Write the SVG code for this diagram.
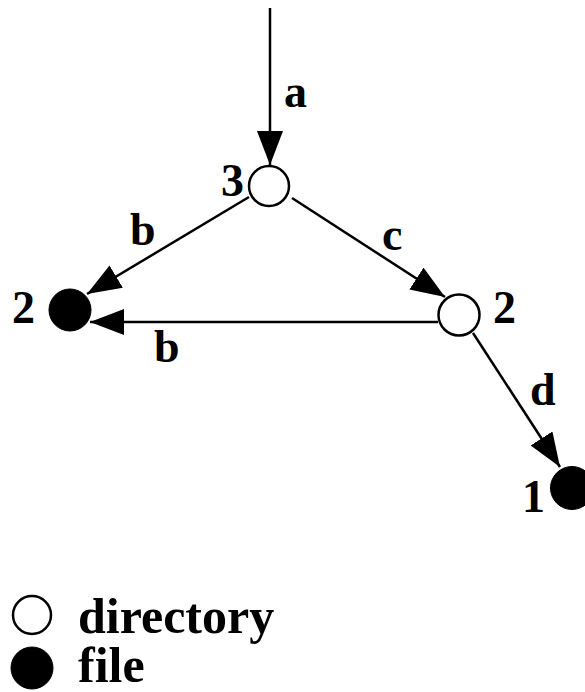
<svg xmlns="http://www.w3.org/2000/svg" width="585" height="692" viewBox="0 0 585 692">
<style>
.edge{stroke:#000;stroke-width:2.5;fill:none;marker-end:url(#arr)}
.dir{fill:#fff;stroke:#000;stroke-width:2.5}
.file{fill:#000;stroke:#000;stroke-width:1}
text{font-family:"Liberation Serif","Times New Roman",serif;font-weight:bold;font-size:46px;fill:#000}
.leg{font-size:50px}
</style>
<defs>
<marker id="arr" viewBox="0 0 34 26" refX="34" refY="13" markerWidth="34" markerHeight="26" markerUnits="userSpaceOnUse" orient="auto">
<path d="M0,0 L34,13 L0,26 z" fill="#000"/>
</marker>
</defs>
<g id="connectors">
<line class="edge" x1="270" y1="8" x2="270" y2="165"/>
<line class="edge" x1="249" y1="197" x2="87" y2="294"/>
<line class="edge" x1="438" y1="322" x2="90" y2="322"/>
<line class="edge" x1="292" y1="198" x2="445" y2="297"/>
<line class="edge" x1="473" y1="333" x2="560" y2="467"/>
<text x="284" y="107">a</text>
<text x="130" y="245">b</text>
<text x="154" y="362">b</text>
<text x="382" y="250">c</text>
<text x="530" y="405">d</text>
</g>
<g id="n3">
<circle class="dir" cx="269" cy="186" r="20"/>
<text x="221" y="196">3</text>
</g>
<g id="f2">
<circle class="file" cx="70" cy="310" r="21"/>
<text x="12" y="323">2</text>
</g>
<g id="n2">
<circle class="dir" cx="459" cy="315" r="20.5"/>
<text x="493" y="323">2</text>
</g>
<g id="f1">
<circle class="file" cx="572" cy="488" r="21.5"/>
<text x="522" y="512">1</text>
</g>
<g id="legend">
<circle class="dir" cx="32" cy="615" r="19"/>
<text class="leg" x="78" y="633">directory</text>
<circle class="file" cx="32" cy="668" r="21"/>
<text class="leg" x="78" y="682">file</text>
</g>
</svg>
